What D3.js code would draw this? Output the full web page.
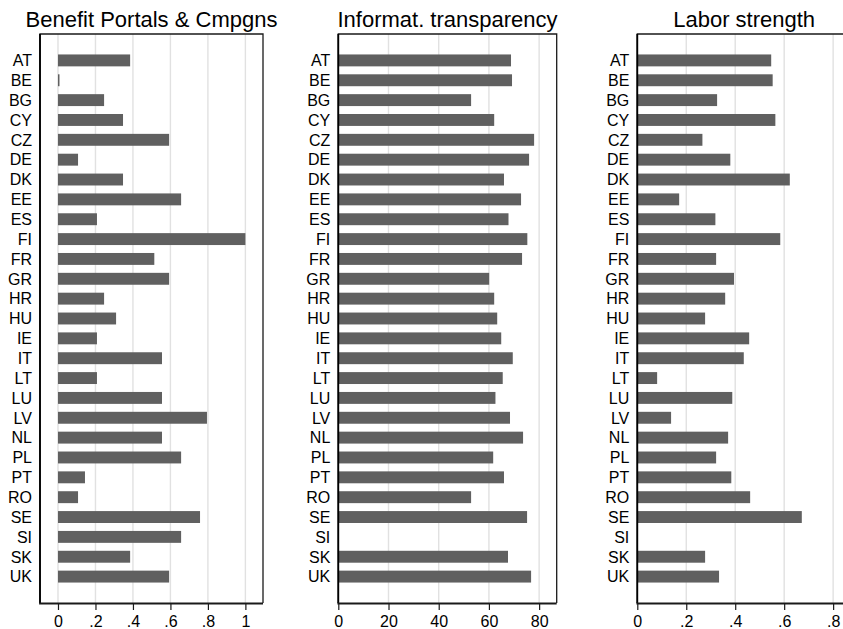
<!DOCTYPE html>
<html>
<head>
<meta charset="utf-8">
<script src="https://cdn.jsdelivr.net/npm/d3@7"></script>
<style>
  html, body { margin: 0; padding: 0; background: #fff; }
  svg { display: block; font-family: "Liberation Sans", Arial, Helvetica, sans-serif; }
</style>
</head>
<body>
<svg id="chart" width="843" height="629"></svg>
<script>
// Country codes, top to bottom
const countries = ["AT","BE","BG","CY","CZ","DE","DK","EE","ES","FI","FR","GR","HR","HU",
                   "IE","IT","LT","LU","LV","NL","PL","PT","RO","SE","SI","SK","UK"];

// Benefit portals & campaigns index (0–1)
const benefitPortals = [0.385, 0.008, 0.246, 0.347, 0.593, 0.107, 0.347, 0.657, 0.208, 1.0,
                        0.514, 0.593, 0.246, 0.31, 0.208, 0.555, 0.208, 0.555, 0.795, 0.555,
                        0.657, 0.144, 0.107, 0.758, 0.657, 0.385, 0.593];

// Information transparency score (0–100); SI not available
const transparency = [68.8, 69.2, 52.9, 62.1, 78.0, 76.0, 66.0, 72.8, 67.8, 75.3,
                      73.2, 60.1, 62.1, 63.3, 64.9, 69.5, 65.5, 62.6, 68.4, 73.6,
                      61.7, 66.0, 52.9, 75.2, null, 67.6, 76.8];

// Labor strength index (0–1); SI not available
const laborStrength = [0.547, 0.553, 0.326, 0.564, 0.266, 0.380, 0.623, 0.171, 0.319, 0.584,
                       0.322, 0.395, 0.359, 0.277, 0.457, 0.435, 0.081, 0.388, 0.138, 0.371,
                       0.322, 0.384, 0.461, 0.672, null, 0.277, 0.334];

// Titles and axis ticks for each panel
const titles = ["Benefit Portals & Cmpgns", "Informat. transparency", "Labor strength"];
const ticks1 = [0, 0.2, 0.4, 0.6, 0.8, 1];
const ticks2 = [0, 20, 40, 60, 80];
const ticks3 = [0, 0.2, 0.4, 0.6, 0.8];

const fmtFrac = v => v === 0 ? "0" : (v === 1 ? "1" : d3.format(".1f")(v).replace(/^0/, ""));
const fmtInt = d3.format("d");

const panels = [
  { title: titles[0], values: benefitPortals, ticks: ticks1, fmt: fmtFrac,
    left: 40, right: 263, domain: [-0.096, 1.094] },
  { title: titles[1], values: transparency, ticks: ticks2, fmt: fmtInt,
    left: 338.3, right: 556.7, domain: [0, 87] },
  { title: titles[2], values: laborStrength, ticks: ticks3, fmt: fmtFrac,
    left: 637.3, right: 851, domain: [0, 0.873] }
];

const plotTop = 34, plotBottom = 603;
const barColor = "#606060";
const gridColor = "#e1e1e1";
const frameColor = "#1a1a1a";

const svg = d3.select("#chart");

const y = d3.scaleBand()
  .domain(countries)
  .range([plotTop, plotBottom])
  .paddingInner(0.4)
  .paddingOuter(1.03);

panels.forEach(p => {
  const g = svg.append("g");
  const x = d3.scaleLinear().domain(p.domain).range([p.left, p.right]);

  // vertical grid lines
  g.append("g").selectAll("line")
    .data(p.ticks)
    .join("line")
    .attr("x1", d => x(d)).attr("x2", d => x(d))
    .attr("y1", plotTop).attr("y2", plotBottom)
    .attr("stroke", gridColor)
    .attr("stroke-width", 1.4);

  // bars
  const rows = countries.map((c, i) => ({ c, v: p.values[i] })).filter(d => d.v != null);
  g.append("g").selectAll("rect")
    .data(rows)
    .join("rect")
    .attr("x", x(0))
    .attr("y", d => y(d.c))
    .attr("width", d => Math.max(0, x(d.v) - x(0)))
    .attr("height", y.bandwidth())
    .attr("fill", barColor);

  // plot frame (top, right, left)
  g.append("path")
    .attr("d", `M${p.left},${plotBottom} V${plotTop} H${p.right} V${plotBottom}`)
    .attr("fill", "none")
    .attr("stroke", frameColor)
    .attr("stroke-width", 1.3);
  g.append("line")
    .attr("x1", p.left).attr("x2", p.left)
    .attr("y1", plotTop).attr("y2", plotBottom)
    .attr("stroke", "#000").attr("stroke-width", 1.8);

  // bottom axis
  const xAxis = d3.axisBottom(x)
    .tickValues(p.ticks)
    .tickFormat(p.fmt)
    .tickSizeInner(7)
    .tickSizeOuter(0)
    .tickPadding(6);
  const ax = g.append("g")
    .attr("transform", `translate(0,${plotBottom})`)
    .call(xAxis);
  ax.select(".domain")
    .attr("d", `M${p.left - 0.9},0.5H${p.right}`)
    .attr("stroke", frameColor).attr("stroke-width", 1.8);
  ax.selectAll(".tick line").attr("stroke", frameColor).attr("stroke-width", 1.2);
  ax.selectAll(".tick text")
    .attr("font-size", 16)
    .attr("font-family", "\"Liberation Sans\", Arial, sans-serif")
    .attr("fill", "#000");

  // country labels
  g.append("g").selectAll("text")
    .data(countries)
    .join("text")
    .attr("x", p.left - 8)
    .attr("y", d => y(d) + y.bandwidth() / 2)
    .attr("dy", "0.36em")
    .attr("text-anchor", "end")
    .attr("font-size", 16)
    .attr("fill", "#000")
    .text(d => d);

  // panel title
  g.append("text")
    .attr("x", (p.left + p.right) / 2)
    .attr("y", 27)
    .attr("text-anchor", "middle")
    .attr("font-size", 22)
    .attr("fill", "#000")
    .text(p.title);
});
</script>
</body>
</html>
